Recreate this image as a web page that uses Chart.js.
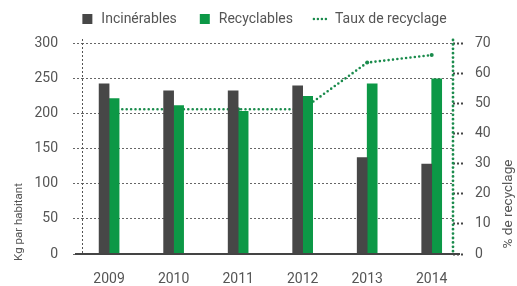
<!DOCTYPE html>
<html lang="fr">
<head>
<meta charset="utf-8">
<script src="https://cdn.jsdelivr.net/npm/chart.js@4.4.1/dist/chart.umd.min.js"></script>
<style>
  html, body { margin: 0; padding: 0; background: #fff; }
  #wrap { width: 517px; height: 286px; }
</style>
</head>
<body>
<div id="wrap"><canvas id="chart"></canvas></div>
<script>
// Données
const ANNEES = [2009, 2010, 2011, 2012, 2013, 2014];
const INCINERABLES = [242, 232, 232, 239, 137, 128];   // kg par habitant
const RECYCLABLES  = [221, 211, 203, 224, 242, 249];   // kg par habitant
const TAUX         = [48, 48, 48, 48, 63.5, 66];       // % de recyclage

const GRIS = '#474747';
const VERT = '#0c9846';
const VERT_LIGNE = '#1a8b4c';
const TEXTE = '#555';
const FONT = 'Roboto, "Liberation Sans", sans-serif';

const toXY = vals => vals.map((v, i) => ({ x: ANNEES[i], y: v }));

// un peu d'espace sous la légende
const legendSpacer = {
  id: 'legendSpacer',
  beforeLayout(chart) {
    const lg = chart.legend;
    if (!lg || lg._spacer) return;
    const fit = lg.fit;
    lg.fit = function () { fit.call(this); this.height += 7; };
    lg._spacer = true;
  }
};

// bordures pointillées, ligne de base et titres d'axes
const decor = {
  id: 'decor',
  afterDatasetsDraw(chart) {
    const { ctx, chartArea: a, scales: { y } } = chart;
    const y0 = y.getPixelForValue(0);
    ctx.save();
    ctx.strokeStyle = '#555';
    ctx.lineWidth = 1;
    ctx.setLineDash([2, 2]);
    ctx.beginPath();
    ctx.moveTo(a.left + 0.5, a.top - 4);
    ctx.lineTo(a.left + 0.5, y0);
    ctx.stroke();

    ctx.strokeStyle = VERT_LIGNE;
    ctx.lineWidth = 2.8;
    ctx.lineCap = 'round';
    ctx.setLineDash([0, 4.4]);
    ctx.beginPath();
    ctx.moveTo(a.right, a.top - 3);
    ctx.lineTo(a.right, y0);
    ctx.stroke();

    ctx.setLineDash([]);
    ctx.lineCap = 'butt';
    ctx.strokeStyle = '#444';
    ctx.lineWidth = 2;
    ctx.beginPath();
    ctx.moveTo(a.left - 7, y0);
    ctx.lineTo(a.right + 7, y0);
    ctx.stroke();

    ctx.fillStyle = TEXTE;
    ctx.textAlign = 'center';
    ctx.textBaseline = 'middle';
    ctx.font = '11.5px ' + FONT;
    ctx.save();
    ctx.translate(19, 222);
    ctx.rotate(-Math.PI / 2);
    ctx.fillText('Kg par habitant', 0, 0);
    ctx.restore();
    ctx.font = '13.5px ' + FONT;
    ctx.translate(509, 204);
    ctx.rotate(-Math.PI / 2);
    ctx.fillText('% de recyclage', 0, 0);
    ctx.restore();
  }
};

const tickFont = { family: FONT, size: 14 };

new Chart(document.getElementById('chart'), {
  type: 'bar',
  data: {
    datasets: [
      { label: 'Incinérables', data: toXY(INCINERABLES), backgroundColor: GRIS, borderWidth: 0, barThickness: 10, yAxisID: 'y' },
      { label: 'Recyclables', data: toXY(RECYCLABLES), backgroundColor: VERT, borderWidth: 0, barThickness: 10, yAxisID: 'y' },
      {
        type: 'line', label: 'Taux de recyclage', data: toXY(TAUX), yAxisID: 'y1',
        borderColor: VERT_LIGNE, borderWidth: 2.6, borderDash: [0, 4.4], borderCapStyle: 'round',
        pointRadius: 2, pointBackgroundColor: VERT_LIGNE, pointBorderWidth: 0, tension: 0
      }
    ]
  },
  options: {
    responsive: true,
    maintainAspectRatio: false,
    animation: false,
    layout: { padding: { left: 10, right: 0, top: -9, bottom: 0 } },
    plugins: {
      tooltip: { enabled: false },
      legend: {
        position: 'top',
        labels: {
          usePointStyle: true, boxHeight: 10, padding: 21, color: TEXTE, font: { family: FONT, size: 14 },
          sort: (a, b) => a.datasetIndex - b.datasetIndex,
          generateLabels: chart => Chart.defaults.plugins.legend.labels.generateLabels(chart).map(it => {
            const ds = chart.data.datasets[it.datasetIndex];
            if (ds.type === 'line') {
              return { ...it, pointStyle: 'line', strokeStyle: VERT_LIGNE, fillStyle: VERT_LIGNE, lineWidth: 2.5, lineDash: [0, 4], lineCap: 'round' };
            }
            return { ...it, pointStyle: 'rect', fillStyle: ds.backgroundColor, lineWidth: 0 };
          })
        }
      }
    },
    scales: {
      x: {
        type: 'linear', min: 2008.58, max: 2014.33, offset: false,
        grid: { display: false, drawTicks: false }, border: { display: false },
        ticks: { stepSize: 1, includeBounds: false, callback: v => String(v), color: TEXTE, font: tickFont, padding: 17.5 },
        afterFit: s => { s.height = 32; }
      },
      y: {
        position: 'left', min: 0, max: 300,
        ticks: { stepSize: 50, padding: 15, color: TEXTE, font: tickFont },
        grid: { color: '#666', lineWidth: 1, tickLength: 9, tickColor: '#666', tickBorderDash: [2, 2] },
        border: { display: false, dash: [2, 2] },
        afterFit: s => { s.width = 72; }
      },
      y1: {
        position: 'right', min: 0, max: 70,
        ticks: { stepSize: 10, padding: 10, color: TEXTE, font: tickFont },
        grid: { drawOnChartArea: false, tickLength: 12, tickColor: '#444', tickWidth: 2, tickBorderDash: [2, 2] },
        border: { display: false },
        afterFit: s => { s.width = 64; }
      }
    }
  },
  plugins: [legendSpacer, decor]
});
</script>
</body>
</html>
